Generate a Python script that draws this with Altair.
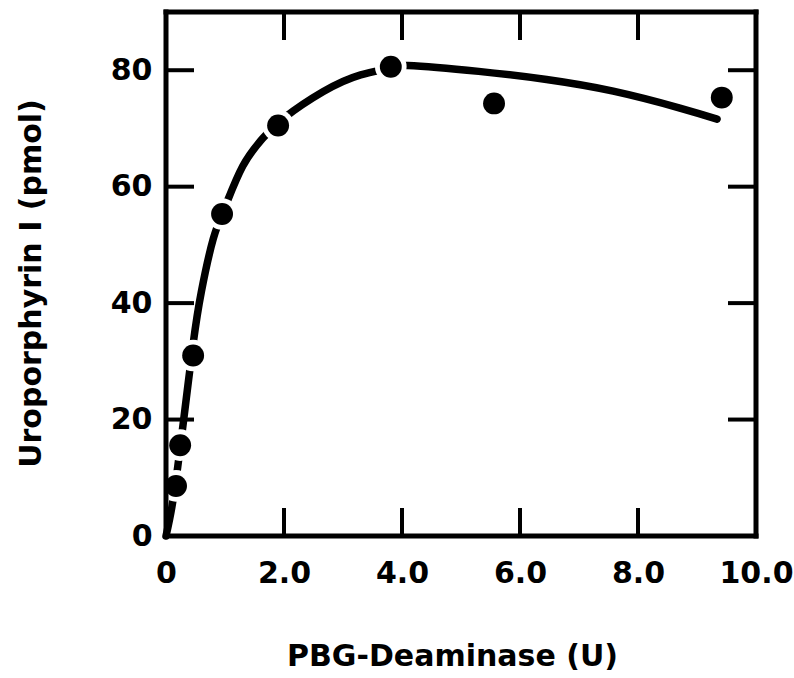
import altair as alt
import pandas as pd

# Measured data points (PBG-Deaminase units, Uroporphyrin I pmol)
pt_x = [0.17, 0.24, 0.46, 0.95, 1.9, 3.81, 5.56, 9.42]
pt_y = [8.6, 15.6, 31.0, 55.3, 70.5, 80.6, 74.3, 75.3]

# Fitted curve
curve_x = [0, 0.1, 0.2, 0.3, 0.46, 0.6, 0.8, 1.0, 1.3, 1.64, 2.0, 2.66, 3.3,
           3.81, 4.1, 5.3, 6.45, 7.58, 8.71, 9.34]
curve_y = [0, 5, 12, 20, 33, 42, 51, 56.5, 63.5, 68.3, 71.8, 76.3, 79.2,
           80.4, 80.8, 79.8, 78.4, 76.4, 73.5, 71.6]

x_label_values = [0, 2, 4, 6, 8, 10]
y_label_values = [0, 20, 40, 60, 80]
x_tick_values = [2, 4, 6, 8]
y_tick_values = [20, 40, 60, 80]

W, H = 590, 524
FONT = "DejaVu Sans"

pts = pd.DataFrame({"x": pt_x, "y": pt_y})
curve = pd.DataFrame({"x": curve_x, "y": curve_y})
xt = pd.DataFrame({"x": x_tick_values})
yt = pd.DataFrame({"y": y_tick_values})
lab = pd.DataFrame({"x": x_label_values[:1], "y": y_label_values[:1]})

xscale = alt.Scale(domain=[0, 10], nice=False, zero=False)
yscale = alt.Scale(domain=[0, 90], nice=False, zero=False)

x_axis = alt.Axis(
    values=x_label_values,
    labelExpr="datum.value == 0 ? '0' : format(datum.value, '.1f')",
    ticks=False, tickSize=0, domain=False, grid=False,
    labelFont=FONT, labelFontSize=30, labelFontWeight="bold", labelColor="black",
    labelBaseline="alphabetic", labelPadding=46, labelFlush=False,
    title="PBG-Deaminase (U)", titleFont=FONT, titleFontSize=30, titleFontWeight="bold",
    titleColor="black", titleBaseline="alphabetic", titleY=129, titleX=286,
)
y_axis = alt.Axis(
    values=y_label_values,
    ticks=False, tickSize=0, domain=False, grid=False,
    labelFont=FONT, labelFontSize=30, labelFontWeight="bold", labelColor="black",
    labelPadding=14,
    title="Uroporphyrin I (pmol)", titleFont=FONT, titleFontSize=30, titleFontWeight="bold",
    titleColor="black", titleBaseline="alphabetic", titleX=-126, titleY=271,
)

axes_layer = alt.Chart(lab).mark_point(opacity=0).encode(
    x=alt.X("x:Q", scale=xscale, axis=x_axis),
    y=alt.Y("y:Q", scale=yscale, axis=y_axis),
)

line = alt.Chart(curve).mark_line(
    color="black", strokeWidth=7.5, strokeCap="round", interpolate="natural"
).encode(x=alt.X("x:Q", scale=xscale), y=alt.Y("y:Q", scale=yscale))

# white ring around each dot that interrupts the curve, as in the original
halo = alt.Chart(pts).mark_point(
    shape="circle", filled=True, fill="white", fillOpacity=1, opacity=1, size=1000
).encode(x=alt.X("x:Q", scale=xscale), y=alt.Y("y:Q", scale=yscale))

dots = alt.Chart(pts).mark_point(
    shape="circle", filled=True, fill="black", fillOpacity=1, opacity=1, size=480
).encode(x=alt.X("x:Q", scale=xscale), y=alt.Y("y:Q", scale=yscale))

tick_style = dict(color="black", strokeWidth=4)
bottom_ticks = alt.Chart(xt).mark_rule(**tick_style).encode(
    x=alt.X("x:Q", scale=xscale), y=alt.value(H), y2=alt.value(H - 28))
top_ticks = alt.Chart(xt).mark_rule(**tick_style).encode(
    x=alt.X("x:Q", scale=xscale), y=alt.value(0), y2=alt.value(28))
left_ticks = alt.Chart(yt).mark_rule(**tick_style).encode(
    y=alt.Y("y:Q", scale=yscale), x=alt.value(0), x2=alt.value(28))
right_ticks = alt.Chart(yt).mark_rule(**tick_style).encode(
    y=alt.Y("y:Q", scale=yscale), x=alt.value(W), x2=alt.value(W - 28))

frame_style = dict(color="black", strokeWidth=5, strokeCap="square")
frame = (
    alt.Chart(lab).mark_rule(**frame_style).encode(x=alt.value(0), x2=alt.value(W), y=alt.value(0))
    + alt.Chart(lab).mark_rule(**frame_style).encode(x=alt.value(0), x2=alt.value(W), y=alt.value(H))
    + alt.Chart(lab).mark_rule(**frame_style).encode(y=alt.value(0), y2=alt.value(H), x=alt.value(0))
    + alt.Chart(lab).mark_rule(**frame_style).encode(y=alt.value(0), y2=alt.value(H), x=alt.value(W))
)

chart = alt.layer(
    axes_layer, line, halo, dots, bottom_ticks, top_ticks, left_ticks, right_ticks, frame
).properties(
    width=W, height=H,
    autosize=alt.AutoSizeParams(type="none"),
    padding={"left": 166, "top": 12, "right": 38, "bottom": 142},
    background="white",
).configure_view(stroke=None)

chart.save("out.html", embed_options={"renderer": "svg", "actions": False})
